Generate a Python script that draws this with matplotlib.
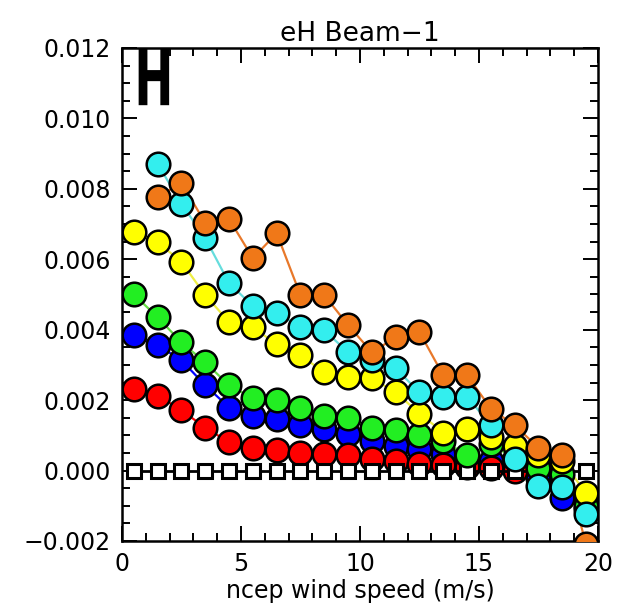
import numpy as np
import matplotlib
matplotlib.use("Agg")
import matplotlib.pyplot as plt
from matplotlib.ticker import MultipleLocator
from matplotlib.transforms import Affine2D
import matplotlib.patheffects as pe

# wind speed bin centres (m/s)
wind = [0.5, 1.5, 2.5, 3.5, 4.5, 5.5, 6.5, 7.5, 8.5, 9.5,
        10.5, 11.5, 12.5, 13.5, 14.5, 15.5, 16.5, 17.5, 18.5, 19.5]

# series
red = [0.00233, 0.00213, 0.00171, 0.00122, 0.00080, 0.00065, 0.00058, 0.00051, 0.00048,
       0.00043, 0.00034, 0.00028, 0.00020, 0.00016, 0.00009, 0.00006, 0.00000]
blue = [0.00384, 0.00356, 0.00313, 0.00242, 0.00179, 0.00156, 0.00145, 0.00128, 0.00119, 0.00105,
        0.00085, 0.00071, 0.00060, 0.00048, 0.00037, 0.00028, 0.00010, -0.00020, -0.00077, -0.00110]
green = [0.00500, 0.00435, 0.00364, 0.00307, 0.00242, 0.00205, 0.00199, 0.00179, 0.00156, 0.00148,
         0.00122, 0.00114, 0.00100, 0.00085, 0.00043, 0.00074, 0.00035, 0.00006, -0.00009, -0.00100]
yellow = [0.00677, 0.00649, 0.00592, 0.00498, 0.00422, 0.00407, 0.00358, 0.00327, 0.00279, 0.00265,
          0.00262, 0.00222, 0.00162, 0.00108, 0.00119, 0.00095, 0.00071, 0.00043, 0.00028, -0.00065]
cyan = [0.00871, 0.00757, 0.00660, 0.00532, 0.00467, 0.00448, 0.00407, 0.00398, 0.00336,
        0.00313, 0.00290, 0.00222, 0.00208, 0.00210, 0.00128, 0.00034, -0.00043, -0.00048, -0.00122]
orange = [0.00777, 0.00817, 0.00703, 0.00714, 0.00603, 0.00674, 0.00498, 0.00498, 0.00413,
          0.00336, 0.00378, 0.00393, 0.00270, 0.00270, 0.00176, 0.00128, 0.00065, 0.00043, -0.00210]
zero = [0.0, 0.0, 0.0, 0.0, 0.0, 0.0, 0.0, 0.0, 0.0, 0.0,
        0.0, 0.0, 0.0, 0.0, 0.0, 0.0, 0.0, 0.0, 0.0, 0.0]


class Squeeze(pe.AbstractPathEffect):
    # squeeze text horizontally about its anchor (panel letter is narrow)
    def __init__(self, sx):
        super().__init__()
        self.sx = sx

    def draw_path(self, renderer, gc, tpath, affine, rgbFace=None):
        x0 = affine.transform((0, 0))[0]
        aff = affine + Affine2D().translate(-x0, 0).scale(self.sx, 1).translate(x0, 0)
        gc0 = renderer.new_gc()
        gc0.copy_properties(gc)
        gc0.set_snap(False)
        gc0.set_linewidth(0)
        renderer.draw_path(gc0, tpath, aff, rgbFace)
        gc0.restore()


plt.rcParams['font.family'] = ['DejaVu Sans']

fig = plt.figure(figsize=(6.17, 6.13), dpi=100)
ax = fig.add_axes([0.1977, 0.1175, 0.7715, 0.8042])

ms, mew = 17, 1.8

def series(xs, ys, col, lcol=None):
    ax.plot(xs, ys, '-', color=lcol or col, lw=1.6, zorder=2)
    ax.plot(xs, ys, 'o', ms=ms, mfc=col, mec='black', mew=mew, zorder=3)

series(wind[:len(blue)], blue, '#0000ff')
series(wind[:len(red)], red, '#ff0000')
ax.plot(wind, zero, '-', color='black', lw=2, zorder=3)
ax.plot(wind, zero, 's', ms=9.5, mfc='white', mec='black', mew=2.2, zorder=3)
series(wind[:len(green)], green, '#22ee22', '#66dd44')
series(wind[:len(yellow)], yellow, '#ffff00', '#eeee44')
series(wind[1:], cyan, '#33eeee', '#66dddd')
series(wind[1:], orange, '#f07818', '#e8782a')

ax.set_xlim(0, 20)
ax.set_ylim(-0.002, 0.012)
ax.xaxis.set_major_locator(MultipleLocator(5))
ax.xaxis.set_minor_locator(MultipleLocator(1))
ax.yaxis.set_major_locator(MultipleLocator(0.002))
ax.yaxis.set_minor_locator(MultipleLocator(0.0005))
ax.yaxis.set_major_formatter(plt.FuncFormatter(lambda v, p: f"{v:.3f}".replace('-', '\u2212')))
ax.tick_params(which='both', direction='in', top=True, right=True, width=1.4, labelsize=17)
ax.tick_params(which='major', length=11, pad=8)
ax.tick_params(which='minor', length=5.5)
for s in ax.spines.values():
    s.set_linewidth(1.8)

ax.set_xlabel('ncep wind speed (m/s)', fontsize=17, labelpad=2)
ax.set_title('eH Beam\u22121', fontsize=19, pad=5)

ax.text(0.026, 0.884, 'H', transform=ax.transAxes, ha='left', va='baseline',
        fontsize=56, fontweight='bold', path_effects=[Squeeze(0.6)])

fig.savefig('out.png', dpi=100)
